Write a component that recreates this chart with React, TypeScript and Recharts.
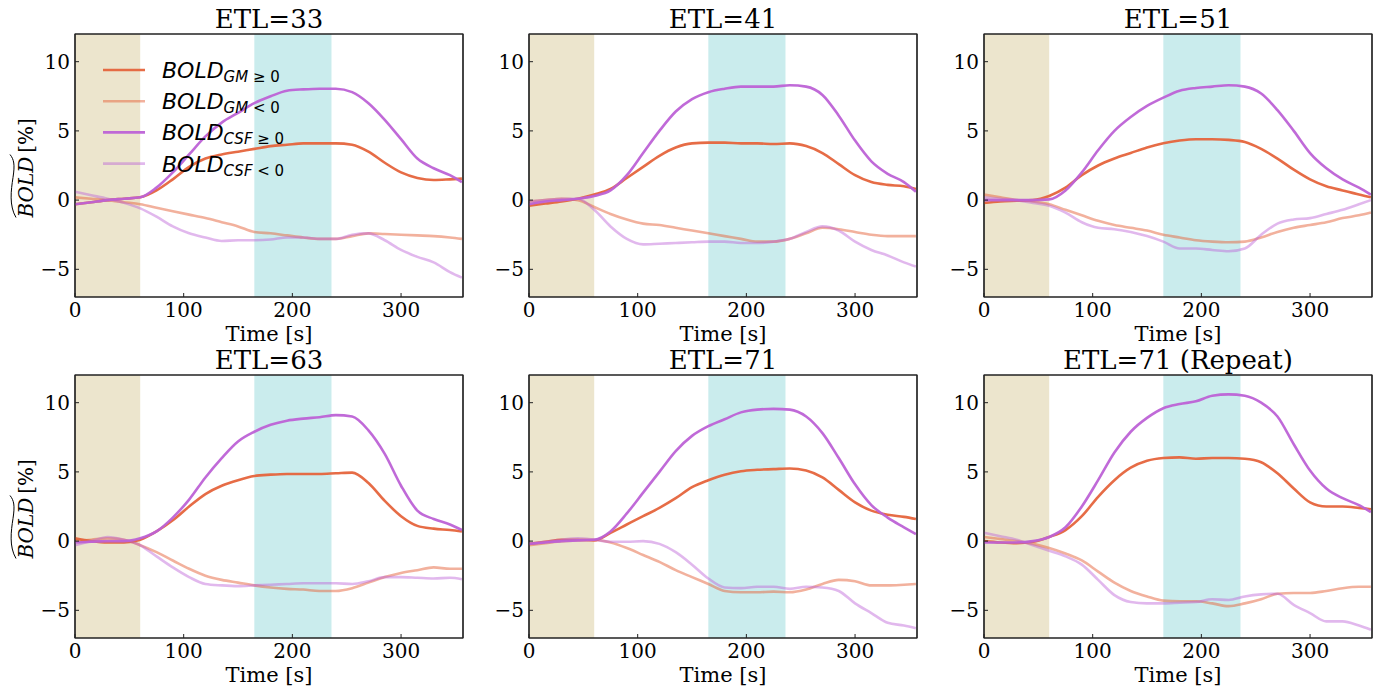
import { Label, Legend, Line, LineChart, ReferenceArea, XAxis, YAxis } from 'recharts';

const TIME = [0, 15, 30, 45, 60, 75, 90, 105, 120, 135, 150, 165, 180, 195, 210, 225, 240, 255, 270, 285, 300, 315, 330, 345, 356];

const TITLES = ['ETL=33', 'ETL=41', 'ETL=51', 'ETL=63', 'ETL=71', 'ETL=71 (Repeat)'];

// ETL=33
const gmPos33 = [-0.3, -0.15, 0.0, 0.1, 0.2, 0.7, 1.5, 2.4, 3.0, 3.3, 3.5, 3.7, 3.9, 4.0, 4.1, 4.1, 4.1, 4.0, 3.5, 2.7, 2.0, 1.6, 1.45, 1.5, 1.55];
const gmNeg33 = [0.2, 0.1, 0.0, -0.15, -0.3, -0.55, -0.8, -1.05, -1.3, -1.6, -1.9, -2.3, -2.4, -2.55, -2.7, -2.8, -2.8, -2.6, -2.4, -2.45, -2.5, -2.55, -2.6, -2.7, -2.8];
const csfPos33 = [-0.3, -0.15, 0.0, 0.1, 0.2, 0.9, 2.0, 3.3, 4.6, 5.6, 6.3, 7.0, 7.5, 7.9, 8.0, 8.05, 8.05, 7.8, 7.0, 5.8, 4.4, 3.0, 2.3, 1.8, 1.3];
const csfNeg33 = [0.6, 0.35, 0.1, -0.2, -0.6, -1.2, -1.9, -2.4, -2.7, -2.95, -2.9, -2.9, -2.85, -2.7, -2.7, -2.8, -2.8, -2.5, -2.4, -2.9, -3.6, -4.1, -4.5, -5.2, -5.6];

// ETL=41
const gmPos41 = [-0.4, -0.25, -0.1, 0.1, 0.4, 0.8, 1.6, 2.4, 3.2, 3.8, 4.1, 4.15, 4.15, 4.1, 4.1, 4.05, 4.1, 3.9, 3.4, 2.6, 1.8, 1.3, 1.1, 1.0, 0.8];
const gmNeg41 = [-0.1, 0.0, 0.1, 0.0, -0.5, -1.0, -1.4, -1.7, -1.8, -2.0, -2.2, -2.4, -2.6, -2.8, -3.0, -3.0, -2.8, -2.4, -2.0, -2.1, -2.3, -2.5, -2.6, -2.6, -2.6];
const csfPos41 = [-0.3, -0.1, 0.0, 0.1, 0.3, 0.7, 1.8, 3.4, 5.0, 6.4, 7.3, 7.8, 8.05, 8.2, 8.2, 8.2, 8.3, 8.2, 7.6, 6.1, 4.3, 2.8, 1.9, 1.3, 0.6];
const csfNeg41 = [-0.1, 0.0, 0.1, 0.1, -0.7, -1.9, -2.8, -3.2, -3.15, -3.1, -3.05, -3.0, -3.0, -3.1, -3.1, -3.0, -2.8, -2.3, -1.9, -2.2, -3.0, -3.6, -4.0, -4.5, -4.8];

// ETL=51
const gmPos51 = [-0.2, -0.1, -0.05, 0.0, 0.3, 0.9, 1.8, 2.5, 3.0, 3.4, 3.8, 4.1, 4.3, 4.4, 4.4, 4.35, 4.2, 3.7, 3.0, 2.2, 1.5, 1.0, 0.7, 0.4, 0.2];
const gmNeg51 = [0.4, 0.2, 0.0, -0.1, -0.3, -0.7, -1.1, -1.5, -1.8, -2.0, -2.2, -2.5, -2.7, -2.9, -3.0, -3.05, -3.0, -2.7, -2.3, -2.0, -1.8, -1.6, -1.3, -1.1, -0.9];
const csfPos51 = [0.0, 0.0, 0.0, 0.0, 0.05, 0.7, 2.0, 3.6, 5.0, 6.0, 6.8, 7.4, 7.9, 8.1, 8.2, 8.3, 8.2, 7.7, 6.5, 5.0, 3.4, 2.3, 1.5, 0.9, 0.4];
const csfNeg51 = [0.2, 0.1, 0.0, -0.2, -0.4, -0.9, -1.6, -2.0, -2.1, -2.3, -2.6, -3.0, -3.5, -3.5, -3.6, -3.7, -3.5, -2.5, -1.7, -1.4, -1.3, -1.0, -0.7, -0.3, 0.0];

// ETL=63
const gmPos63 = [0.2, 0.0, -0.1, -0.1, 0.1, 0.7, 1.5, 2.5, 3.4, 4.0, 4.4, 4.7, 4.8, 4.85, 4.85, 4.85, 4.9, 4.95, 4.2, 2.9, 1.8, 1.1, 0.9, 0.8, 0.7];
const gmNeg63 = [0.0, 0.1, 0.2, 0.1, -0.3, -0.8, -1.4, -2.0, -2.5, -2.8, -3.0, -3.2, -3.35, -3.45, -3.5, -3.6, -3.6, -3.4, -3.0, -2.6, -2.3, -2.1, -1.9, -2.0, -2.0];
const csfPos63 = [-0.1, -0.05, 0.0, 0.0, 0.2, 0.7, 1.7, 3.0, 4.6, 6.0, 7.2, 7.9, 8.4, 8.7, 8.85, 8.95, 9.1, 9.0, 8.0, 6.3, 4.0, 2.2, 1.6, 1.2, 0.8];
const csfNeg63 = [-0.3, 0.0, 0.3, 0.1, -0.3, -1.1, -1.9, -2.6, -3.1, -3.2, -3.25, -3.2, -3.15, -3.1, -3.05, -3.05, -3.05, -3.1, -2.9, -2.6, -2.6, -2.65, -2.7, -2.65, -2.75];

// ETL=71
const gmPos71 = [-0.2, -0.05, 0.1, 0.1, 0.05, 0.6, 1.2, 1.8, 2.4, 3.1, 3.9, 4.4, 4.8, 5.05, 5.15, 5.2, 5.25, 5.1, 4.6, 3.7, 2.8, 2.2, 1.9, 1.75, 1.6];
const gmNeg71 = [-0.3, -0.15, 0.0, 0.05, 0.1, -0.1, -0.5, -1.0, -1.5, -2.1, -2.6, -3.1, -3.6, -3.7, -3.7, -3.65, -3.7, -3.5, -3.1, -2.8, -2.9, -3.2, -3.2, -3.15, -3.1];
const csfPos71 = [-0.2, -0.1, 0.0, 0.05, 0.1, 0.7, 2.0, 3.5, 5.0, 6.5, 7.6, 8.3, 8.8, 9.3, 9.5, 9.55, 9.5, 9.0, 7.8, 6.0, 4.1, 2.6, 1.7, 1.0, 0.5];
const csfNeg71 = [-0.2, -0.05, 0.1, 0.2, 0.1, -0.05, -0.05, 0.0, -0.2, -0.8, -1.7, -2.7, -3.35, -3.4, -3.3, -3.3, -3.45, -3.3, -3.35, -3.6, -4.5, -5.2, -5.9, -6.1, -6.3];

// ETL=71 (Repeat)
const gmPos71r = [0.0, -0.1, -0.15, -0.05, 0.3, 0.8, 1.8, 3.2, 4.4, 5.3, 5.8, 6.0, 6.05, 5.95, 6.0, 6.0, 5.95, 5.7, 4.9, 3.8, 2.8, 2.5, 2.5, 2.4, 2.3];
const gmNeg71r = [0.3, 0.15, 0.0, -0.2, -0.5, -0.9, -1.4, -2.2, -3.0, -3.6, -4.0, -4.3, -4.35, -4.35, -4.5, -4.7, -4.5, -4.2, -3.8, -3.75, -3.75, -3.6, -3.4, -3.3, -3.3];
const csfPos71r = [-0.1, -0.1, -0.1, 0.0, 0.3, 1.0, 2.5, 4.4, 6.4, 7.9, 8.9, 9.6, 9.9, 10.1, 10.5, 10.6, 10.5, 10.0, 9.0, 7.0, 5.1, 3.8, 3.1, 2.6, 2.1];
const csfNeg71r = [0.6, 0.35, 0.1, -0.3, -0.7, -1.1, -1.7, -2.8, -3.9, -4.4, -4.5, -4.5, -4.45, -4.4, -4.2, -4.25, -4.0, -3.85, -3.8, -4.6, -5.2, -5.8, -5.8, -6.1, -6.4];

const PANELS = [
  [gmPos33, gmNeg33, csfPos33, csfNeg33],
  [gmPos41, gmNeg41, csfPos41, csfNeg41],
  [gmPos51, gmNeg51, csfPos51, csfNeg51],
  [gmPos63, gmNeg63, csfPos63, csfNeg63],
  [gmPos71, gmNeg71, csfPos71, csfNeg71],
  [gmPos71r, gmNeg71r, csfPos71r, csfNeg71r],
];

const SERIES = [
  { key: 'gmPos', color: '#e5643c', opacity: 0.95, sub: 'GM', rel: ' \u2265 0' },
  { key: 'gmNeg', color: '#e5643c', opacity: 0.5, sub: 'GM', rel: ' < 0' },
  { key: 'csfPos', color: '#bd62d6', opacity: 0.95, sub: 'CSF', rel: ' \u2265 0' },
  { key: 'csfNeg', color: '#bd62d6', opacity: 0.45, sub: 'CSF', rel: ' < 0' },
];

const X_DOMAIN = [0, 357];
const Y_DOMAIN = [-7, 12];
const X_TICKS = [0, 100, 200, 300];
const Y_TICKS = [-5, 0, 5, 10];
const STIM_BASE = [0, 60];
const STIM_WINDOW = [165, 236];

const SERIF = '"DejaVu Serif", serif';
const SANS = '"DejaVu Sans", sans-serif';
const FRAME = '#222';

const PLOT_W = 388;
const PLOT_H = 263;
const COL_LEFT = [75, 529, 984];
const ROW_TOP = [34, 375];

function buildRows(values: number[][]) {
  return TIME.map((t, i) => {
    const row: Record<string, number> = { t };
    SERIES.forEach((s, j) => {
      row[s.key] = values[j][i];
    });
    return row;
  });
}

const fmtY = (v: number) => (v < 0 ? `\u2212${Math.abs(v)}` : `${v}`);

function YLabel(props: any) {
  const vb = props.viewBox || { x: 30, y: 34, width: 40, height: PLOT_H };
  const cx = vb.x - 9;
  const cy = vb.y + vb.height / 2;
  return (
    <g transform={`translate(${cx},${cy}) rotate(-90)`}>
      <text x={-52} y={7} fontFamily={SERIF} fontSize={20} fill="#000">
        <tspan fontStyle="italic">BOLD</tspan>
        <tspan dx={4}>[%]</tspan>
      </text>
      <path d="M -52 -10 C -40 -17, -25 -15, -12 -13 S 6 -12, 11 -16" fill="none" stroke="#000" strokeWidth={1} />
    </g>
  );
}

function XLabel(props: any) {
  const vb = props.viewBox || { x: 70, y: 297, width: PLOT_W, height: 50 };
  return (
    <text x={vb.x + vb.width / 2} y={vb.y + 44} textAnchor="middle" fontFamily={SERIF} fontSize={21} fill="#000">
      Time [s]
    </text>
  );
}

function LegendBox() {
  return (
    <svg width={200} height={130}>
      {SERIES.map((s, i) => {
        const y = 15 + i * 31.2;
        return (
          <g key={s.key}>
            <line x1={0} x2={42} y1={y} y2={y} stroke={s.color} strokeOpacity={s.opacity} strokeWidth={2.6} />
            <text x={59} y={y + 8} fontFamily={SANS} fontSize={22} fill="#000">
              <tspan fontStyle="italic">BOLD</tspan>
              <tspan fontSize={15} dy={4} fontStyle="italic">{s.sub}</tspan>
              <tspan fontSize={15}>{s.rel}</tspan>
            </text>
          </g>
        );
      })}
    </svg>
  );
}

function Panel({ index }: { index: number }) {
  const col = index % 3;
  const row = Math.floor(index / 3);
  const rows = buildRows(PANELS[index]);
  const left = COL_LEFT[col] - 70;
  const top = ROW_TOP[row] - 34;
  const tickStyle = { fill: '#000', fontSize: 20, fontFamily: SERIF };
  const frameLine = { stroke: FRAME, strokeWidth: 1.2 };

  return (
    <div style={{ position: 'absolute', left, top }}>
      <div
        style={{
          position: 'absolute',
          left: 70,
          top: 6,
          width: PLOT_W,
          textAlign: 'center',
          fontFamily: SERIF,
          fontSize: 26,
          lineHeight: '26px',
          color: '#000',
          whiteSpace: 'nowrap',
        }}
      >
        {TITLES[index]}
      </div>
      <LineChart width={468} height={347} data={rows} margin={{ top: 33, right: 9, left: 30, bottom: 0 }}>
        <XAxis
          dataKey="t"
          type="number"
          domain={X_DOMAIN}
          ticks={X_TICKS}
          allowDataOverflow
          height={50}
          tick={tickStyle}
          tickSize={-4}
          tickMargin={10}
          axisLine={frameLine}
          tickLine={{ stroke: FRAME }}
        >
          <Label content={XLabel} />
        </XAxis>
        <XAxis
          xAxisId="top"
          orientation="top"
          dataKey="t"
          type="number"
          domain={X_DOMAIN}
          ticks={X_TICKS}
          allowDataOverflow
          height={1}
          tick={false}
          tickSize={-4}
          axisLine={frameLine}
          tickLine={{ stroke: FRAME }}
        />
        <YAxis
          type="number"
          domain={Y_DOMAIN}
          ticks={Y_TICKS}
          allowDataOverflow
          width={40}
          tick={tickStyle}
          tickFormatter={fmtY}
          tickSize={-4}
          tickMargin={9}
          axisLine={frameLine}
          tickLine={{ stroke: FRAME }}
        >
          {col === 0 && <Label content={YLabel} />}
        </YAxis>
        <YAxis
          yAxisId="right"
          orientation="right"
          type="number"
          domain={Y_DOMAIN}
          ticks={Y_TICKS}
          allowDataOverflow
          width={1}
          tick={false}
          tickSize={-4}
          axisLine={frameLine}
          tickLine={{ stroke: FRAME }}
        />
        <ReferenceArea x1={STIM_BASE[0]} x2={STIM_BASE[1]} y1={Y_DOMAIN[0]} y2={Y_DOMAIN[1]} fill="#ece5cd" fillOpacity={1} stroke="none" />
        <ReferenceArea x1={STIM_WINDOW[0]} x2={STIM_WINDOW[1]} y1={Y_DOMAIN[0]} y2={Y_DOMAIN[1]} fill="#caeced" fillOpacity={1} stroke="none" />
        {SERIES.map((s) => (
          <Line
            key={s.key}
            type="monotone"
            dataKey={s.key}
            stroke={s.color}
            strokeOpacity={s.opacity}
            strokeWidth={2.6}
            dot={false}
            activeDot={false}
            isAnimationActive={false}
          />
        ))}
        <ReferenceArea
          x1={X_DOMAIN[0]}
          x2={X_DOMAIN[1]}
          y1={Y_DOMAIN[0]}
          y2={Y_DOMAIN[1]}
          fill="none"
          stroke={FRAME}
          strokeWidth={1.2}
        />
        {index === 0 && (
          <Legend
            layout="vertical"
            align="center"
            verticalAlign="middle"
            content={() => <LegendBox />}
            wrapperStyle={{ left: 98, top: 55, width: 200, height: 130 }}
          />
        )}
      </LineChart>
    </div>
  );
}

export default function App() {
  return (
    <div style={{ position: 'absolute', left: 0, top: 0, width: 1378, height: 690, background: '#fff' }}>
      {TITLES.map((_, i) => (
        <Panel key={i} index={i} />
      ))}
    </div>
  );
}
